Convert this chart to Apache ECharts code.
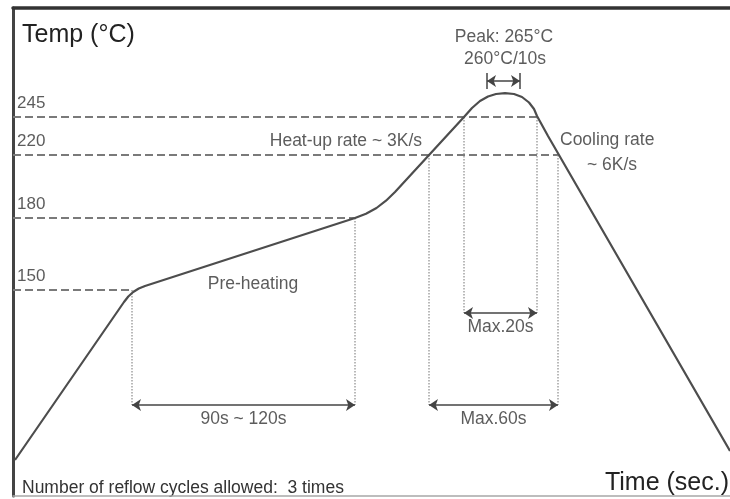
<!DOCTYPE html>
<html>
<head>
<meta charset="utf-8">
<script src="https://cdn.jsdelivr.net/npm/echarts@6/dist/echarts.min.js"></script>
<style>html,body{margin:0;padding:0;background:#fff}#c{width:730px;height:499px}</style>
</head>
<body>
<div id="c"></div>
<script>
// Schematic reflow profile (time in s, level in diagram height units)
const profileTime  = [1, 55.5, 57.65, 60.1, 62.9, 66, 171, 176.5, 181.75, 186.5, 191, 225.5, 229.5, 233.5, 237.5, 241.5, 246, 250.5, 254.5, 258, 260.5, 262, 267.5, 358.5];
const profileLevel = [36, 194, 199.5, 204, 207.5, 210, 278, 282.3, 288, 295.3, 304, 379, 388, 395, 399.5, 402, 402.8, 402, 399, 393.5, 387, 380, 360, 45];

// Temperature levels (dashed guides)
const levelLabels  = ['150', '180', '220', '245'];
const levelHeights = [206, 278, 341, 379];
const levelEnds    = [59.5, 171, 272.5, 262];

// Vertical dotted drop lines
const dropTime   = [59.5, 171, 208, 272.5, 225.5, 262];
const dropTop    = [206, 278, 341, 341, 379, 379];
const dropBottom = [91, 91, 91, 91, 183, 183];

// Double-headed duration arrows
const spanStart = [59.5, 208, 225.5, 237];
const spanEnd   = [171, 272.5, 262, 253.5];
const spanLevel = [91, 91, 183, 415];
const spanLabels = ['90s ~ 120s', 'Max.60s', 'Max.20s', ''];

// Peak bracket ticks
const bracketTime = [237, 253.5];
const bracketLow = 407, bracketHigh = 423;

// Annotations
const annoText  = ['Pre-heating', 'Heat-up rate ~ 3K/s', 'Peak: 265°C', '260°C/10s', 'Cooling rate', '~ 6K/s'];
const annoTime  = [120, 204.5, 245.5, 246, 273.5, 299.5];
const annoLevel = [212, 355, 459, 437, 356, 331];
const annoAlign = ['center', 'right', 'center', 'center', 'left', 'center'];

const FONT = '"Liberation Sans", Arial, Helvetica, sans-serif';
const TXT = '#333';
const chart = echarts.init(document.getElementById('c'));

const series = [];
const hidden = { type: 'value', axisTick: {show: false}, axisLabel: {show: false}, splitLine: {show: false} };

levelHeights.forEach((h, i) => {
  series.push({ type: 'line', silent: true, symbol: 'none', z: 2,
    lineStyle: {color: '#7a7a7a', width: 2, type: [8, 4]},
    data: [[0, h], [levelEnds[i], h]] });
});
dropTime.forEach((t, i) => {
  series.push({ type: 'line', silent: true, symbol: 'none', z: 2,
    lineStyle: {color: '#8a8a8a', width: 1.2, type: [1.5, 1.5]},
    data: [[t, dropTop[i]], [t, dropBottom[i]]] });
});
bracketTime.forEach(t => {
  series.push({ type: 'line', silent: true, symbol: 'none', z: 3,
    lineStyle: {color: '#444', width: 1.5},
    data: [[t, bracketLow], [t, bracketHigh]] });
});
series.push({ type: 'line', silent: true, symbol: 'none', data: [],
  markLine: { silent: true, animation: false, symbol: ['arrow', 'arrow'], symbolSize: 9,
    label: {show: false}, lineStyle: {color: '#444', width: 1.5, type: 'solid'},
    data: spanStart.map((s, i) => [{coord: [s, spanLevel[i]]}, {coord: [spanEnd[i], spanLevel[i]]}]) } });
series.push({ type: 'line', name: 'Profile', symbol: 'none', z: 5,
  lineStyle: {color: '#4d4d4d', width: 2.2},
  data: profileTime.map((t, i) => [t, profileLevel[i]]) });

const labels = [];
levelLabels.forEach((s, i) => labels.push({value: [2, levelHeights[i] + 14], text: s, align: 'left', size: 17}));
annoText.forEach((s, i) => labels.push({value: [annoTime[i], annoLevel[i]], text: s, align: annoAlign[i], size: 17.5}));
spanLabels.forEach((s, i) => { if (s) labels.push({value: [(spanStart[i] + spanEnd[i]) / 2, spanLevel[i] - 14], text: s, align: 'center', size: 17.5}); });
series.push({ type: 'scatter', silent: true, symbolSize: 0, z: 6,
  data: labels.map(l => ({ value: l.value,
    label: {show: true, position: [0, 0], formatter: l.text, align: l.align, verticalAlign: 'middle',
      color: TXT, fontFamily: FONT, fontSize: l.size} })) });

chart.setOption({
  animation: false,
  grid: {left: 13, right: 0, top: 8, bottom: 3},
  xAxis: [
    Object.assign({}, hidden, {min: 0, max: 358.5, axisLine: {show: true, onZero: false, lineStyle: {color: '#a8a8a8', width: 1.5}}}),
    Object.assign({}, hidden, {min: 0, max: 358.5, position: 'top', axisLine: {show: true, onZero: false, lineStyle: {color: '#333', width: 3.5}}})
  ],
  yAxis: Object.assign({}, hidden, {min: 0, max: 488, axisLine: {show: true, onZero: false, lineStyle: {color: '#444', width: 3}}}),
  graphic: [
    {type: 'text', left: 22, top: 23, style: {text: 'Temp (°C)', font: '25px ' + FONT, fill: '#222'}},
    {type: 'text', right: 1, top: 471, style: {text: 'Time (sec.)', font: '25px ' + FONT, fill: '#222'}},
    {type: 'text', left: 22, top: 479, style: {text: 'Number of reflow cycles allowed:  3 times', font: '17.5px ' + FONT, fill: TXT}}
  ],
  series: series
});
</script>
</body>
</html>
